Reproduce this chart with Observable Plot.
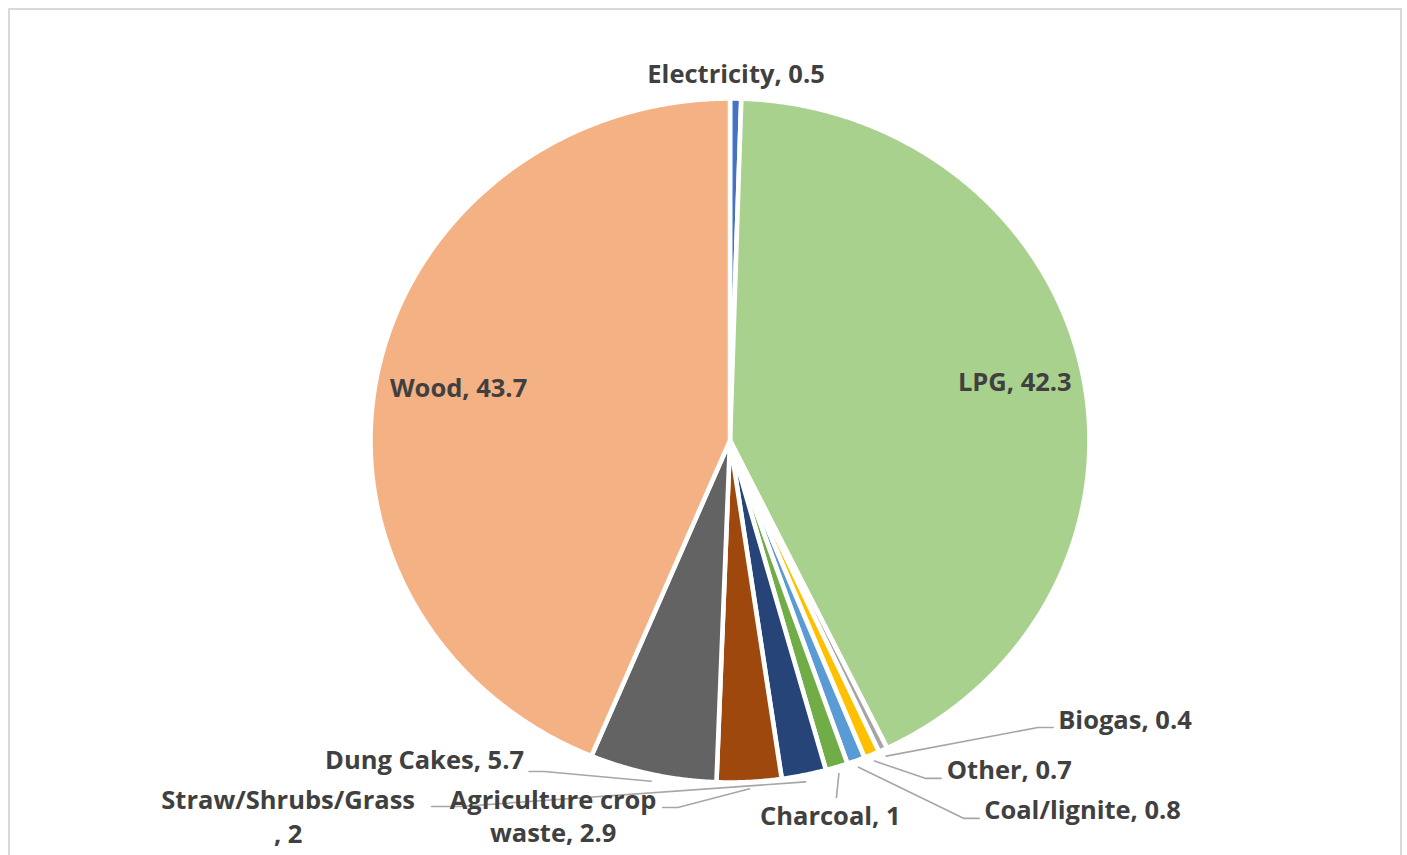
<!DOCTYPE html>
<html>
<head>
<meta charset="utf-8">
<script src="https://cdn.jsdelivr.net/npm/d3@7"></script>
<script src="https://cdn.jsdelivr.net/npm/@observablehq/plot@0.6"></script>
<style>
  body { margin: 0; background: #fff; overflow: hidden; }
  #frame { position: absolute; left: 8px; top: 8px; width: 1394px; height: 900px;
           border: 2.5px solid #d9d9d9; box-sizing: border-box; }
  #chart { position: absolute; left: 0; top: 0; }
</style>
</head>
<body>
<div id="frame"></div>
<div id="chart"></div>
<script>
// Share of households by primary cooking fuel (%), clockwise from 12 o'clock
const fuels  = ["Electricity", "LPG", "Biogas", "Other", "Coal/lignite", "Charcoal",
                "Straw/Shrubs/Grass", "Agriculture crop waste", "Dung Cakes", "Wood"];
const shares = [0.5, 42.3, 0.4, 0.7, 0.8, 1, 2, 2.9, 5.7, 43.7];
const colors = ["#4472c4", "#a9d18e", "#a5a5a5", "#ffc000", "#5b9bd5", "#70ad47",
                "#264478", "#9e480e", "#636363", "#f4b183"];

// Where each data label goes (unit-circle coordinates of the pie).
// "radial": placed along the slice's mid angle at factor r.
// "callout": leader line from the slice rim to an elbow, a short run, then the label.
const labelLayout = {
  "Electricity":            {mode: "radial", r: 1.072},
  "LPG":                    {mode: "radial", r: 0.81},
  "Wood":                   {mode: "radial", r: 0.77},
  "Biogas":                 {mode: "callout", elbow: [0.857, -0.839], end: [0.899, -0.839], at: [0.913, -0.819], anchor: "start"},
  "Other":                  {mode: "callout", elbow: [0.545, -0.988], end: [0.587, -0.988], at: [0.603, -0.965], anchor: "start"},
  "Coal/lignite":           {mode: "callout", elbow: [0.651, -1.105], end: [0.693, -1.105], at: [0.707, -1.083], anchor: "start"},
  "Charcoal":               {mode: "callout", elbow: [0.296, -1.044], end: [0.296, -1.044], at: [0.279, -1.099], anchor: "middle"},
  "Straw/Shrubs/Grass":     {mode: "callout", elbow: [-0.749, -1.070], end: [-0.830, -1.070], at: [-1.229, -1.102], anchor: "middle", wrap: ["Grass, ", "Grass\n, "]},
  "Agriculture crop waste": {mode: "callout", elbow: [-0.145, -1.073], end: [-0.187, -1.073], at: [-0.492, -1.101], anchor: "middle", wrap: ["crop ", "crop\n"]},
  "Dung Cakes":             {mode: "callout", elbow: [-0.517, -0.968], end: [-0.559, -0.968], at: [-0.573, -0.936], anchor: "end"}
};

// Angles in turns, clockwise from the top; unit coordinates with y pointing up.
const pt = (turn, r = 1) => [r * Math.sin(turn * 2 * Math.PI), r * Math.cos(turn * 2 * Math.PI)];
const total = d3.sum(shares);
const starts = d3.cumsum([0, ...shares]).map(v => v / total);

const slices = fuels.map((name, i) => {
  const t0 = starts[i], t1 = starts[i + 1];
  const n = Math.max(2, Math.ceil((t1 - t0) * 1440));
  const ring = d3.range(n + 1).map(k => pt(t0 + (t1 - t0) * k / n));
  const poly = [[0, 0], ...ring, [0, 0]].map(([x, y]) => ({name, x, y}));
  return {name, color: colors[i], poly, mid: (t0 + t1) / 2, value: shares[i]};
});

const labelText = s => {
  let t = `${s.name}, ${s.value}`;
  const w = labelLayout[s.name].wrap;
  if (w) t = t.replace(w[0], w[1]);
  return t;
};

const labels = slices.map(s => {
  const L = labelLayout[s.name];
  const [x, y] = L.mode === "callout" ? L.at : pt(s.mid, L.r);
  return {name: s.name, text: labelText(s), x, y, anchor: L.anchor || "middle"};
});

const leaders = slices.filter(s => labelLayout[s.name].mode === "callout").flatMap(s => {
  const L = labelLayout[s.name];
  const [sx, sy] = pt(s.mid, 1.02);
  return [[sx, sy], L.elbow, L.end].map(([x, y]) => ({name: s.name, x, y}));
});

const textStyle = {fontFamily: "'Open Sans', Lato, sans-serif", fontWeight: "bold", fontSize: 25.5,
                   fill: "#404040", lineHeight: 1.3, dy: -2};

const chart = Plot.plot({
  width: 1407,
  height: 855,
  marginLeft: 370,
  marginRight: 318,
  marginTop: 98,
  marginBottom: 73,
  x: {domain: [-1, 1], axis: null},
  y: {domain: [-1, 1], axis: null},
  style: {background: "transparent", overflow: "visible"},
  marks: [
    ...slices.map(s => Plot.line(s.poly, {
      x: "x", y: "y", fill: s.color, stroke: "white", strokeWidth: 4.6,
      strokeLinejoin: "round", curve: "linear"
    })),
    Plot.line(leaders, {x: "x", y: "y", z: "name", stroke: "#a6a6a6", strokeWidth: 1.6}),
    ...["start", "middle", "end"].map(a => Plot.text(labels.filter(d => d.anchor === a), {
      x: "x", y: "y", text: "text", textAnchor: a, ...textStyle
    }))
  ]
});

document.getElementById("chart").appendChild(chart);
</script>
</body>
</html>
